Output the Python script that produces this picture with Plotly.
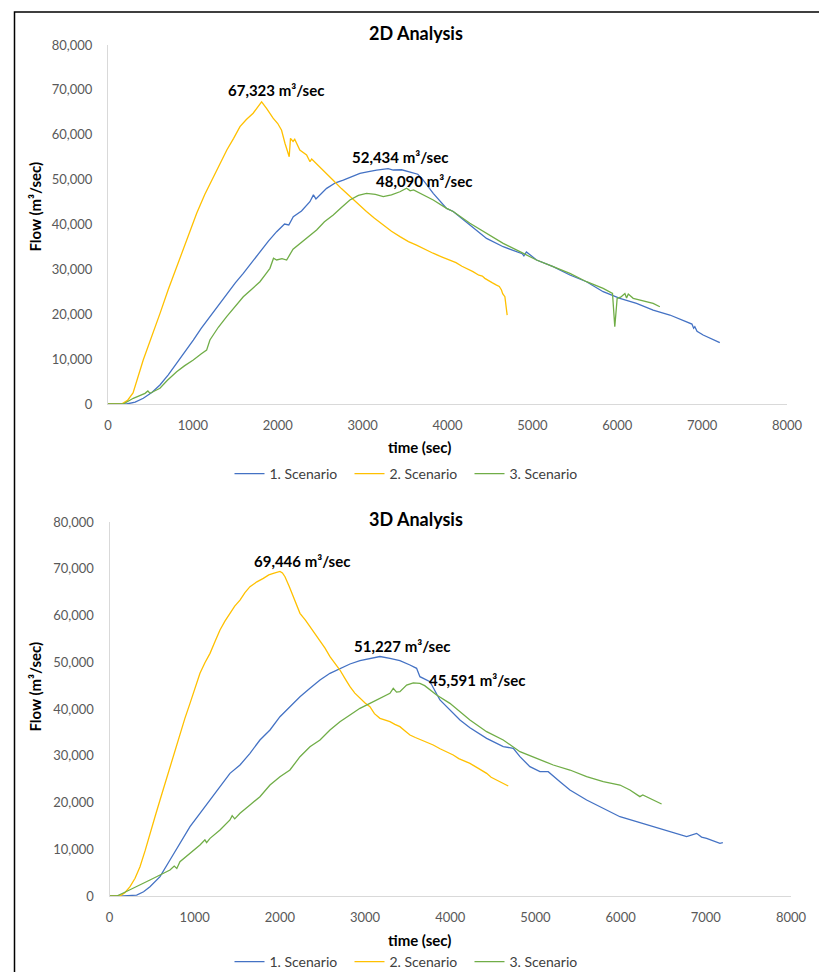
import plotly.graph_objects as go

# ---------------- data: 2D Analysis ----------------
s1_2d_t = [0, 220, 320, 416, 520, 612, 710, 809, 905, 1005, 1100, 1201, 1300, 1398, 1500, 1594, 1700, 1790, 1890, 1987,
           2080, 2130, 2183, 2280, 2379, 2420, 2450, 2576, 2680, 2772, 2870, 2968, 3070, 3165, 3300, 3361, 3460, 3557,
           3650, 3714, 3832, 3989, 4067, 4264, 4460, 4656, 4813, 4880, 4900, 4930, 5049, 5245, 5442, 5638, 5834, 6031,
           6227, 6423, 6620, 6816, 6880, 6900, 6914, 6940, 7012, 7208]
s1_2d_q = [0, 0, 400, 1270, 2600, 4230, 6500, 9060, 11700, 14260, 16900, 19460, 22100, 24660, 27000, 29100, 31700, 33940, 36300, 38400,
           40100, 39900, 41740, 43000, 45080, 46600, 45700, 48050, 49300, 49900, 50600, 51400, 51800, 52140, 52434, 52140, 52200, 51770,
           51200, 49900, 46950, 43600, 42900, 39900, 36900, 35050, 33940, 33500, 33000, 33900, 32090, 30600, 28740, 27250, 25020, 23550,
           22430, 20940, 19830, 18340, 17800, 16900, 17230, 16200, 15370, 13660]

s2_2d_t = [0, 160, 230, 295, 415, 520, 615, 710, 810, 930, 1045, 1140, 1240, 1320, 1400, 1480, 1555, 1630, 1710, 1770,
           1810, 1870, 1945, 2000, 2045, 2085, 2135, 2150, 2180, 2200, 2260, 2340, 2380, 2400, 2455, 2550, 2650, 2750,
           2850, 2950, 3045, 3140, 3240, 3340, 3440, 3540, 3635, 3730, 3830, 3930, 4030, 4100, 4170, 4264, 4300, 4370,
           4410, 4440, 4480, 4530, 4578, 4610, 4636, 4650, 4676, 4690, 4703]
s2_2d_q = [0, 0, 800, 2450, 9800, 15200, 20300, 25500, 30600, 36800, 42500, 46700, 50600, 53800, 56600, 59200, 61800, 63400, 64800, 66300,
           67323, 65800, 63700, 62500, 61000, 58100, 55100, 59200, 58500, 59000, 56600, 55500, 54000, 54600, 53600, 51700, 49900, 48000,
           46200, 44500, 42900, 41400, 39900, 38500, 37300, 36200, 35400, 34500, 33600, 32800, 32100, 31500, 30700, 29900, 29500, 28700,
           28500, 28000, 27500, 27000, 26500, 26200, 25400, 24600, 23900, 21500, 19800]

s3_2d_t = [0, 180, 298, 380, 436, 470, 495, 560, 612, 700, 809, 900, 1005, 1100, 1162, 1201, 1240, 1300, 1398, 1500,
           1594, 1700, 1790, 1860, 1908, 1950, 1987, 2050, 2105, 2180, 2261, 2360, 2458, 2550, 2654, 2750, 2850, 2950,
           3046, 3150, 3243, 3340, 3439, 3518, 3560, 3600, 3675, 3750, 3832, 3989, 4067, 4264, 4460, 4656, 4853, 5049,
           5245, 5442, 5638, 5834, 5944, 5971, 5999, 6040, 6070, 6090, 6110, 6130, 6188, 6306, 6423, 6502]
s3_2d_q = [0, 0, 1270, 1900, 2380, 2900, 2380, 3000, 3500, 5300, 7200, 8500, 9800, 11200, 12000, 14260, 15500, 17100, 19460, 21800,
           23900, 25700, 27250, 29000, 30230, 32500, 32090, 32400, 32090, 34500, 35800, 37300, 38770, 40600, 42110, 43800, 45450, 46500,
           46950, 46700, 46200, 46600, 47300, 48090, 47500, 47700, 46950, 46200, 45450, 43600, 42900, 40260, 38030, 35800, 33940, 32090,
           30600, 29100, 27250, 25760, 24660, 17230, 23550, 23800, 24290, 24600, 23600, 24500, 23550, 23000, 22430, 21680]

# ---------------- data: 3D Analysis ----------------
s1_3d_t = [0, 162, 319, 400, 475, 593, 710, 827, 945, 1062, 1180, 1297, 1414, 1532, 1649, 1766, 1884, 2001, 2118, 2236,
           2353, 2471, 2588, 2705, 2823, 2940, 3057, 3175, 3292, 3409, 3527, 3605, 3644, 3762, 3879, 3996, 4114, 4231,
           4427, 4622, 4740, 4818, 4935, 5053, 5150, 5288, 5405, 5601, 5796, 5992, 6188, 6383, 6579, 6775, 6892, 6950,
           7009, 7166, 7200]
s1_3d_q = [0, 0, 200, 900, 2000, 4130, 7700, 11270, 14830, 17690, 20530, 23380, 26240, 28020, 30520, 33370, 35510, 38360, 40500, 42630,
           44420, 46200, 47630, 48700, 49630, 50340, 50840, 51227, 50840, 50340, 49410, 48700, 46910, 45840, 41930, 39790, 37650, 36000,
           33730, 31940, 31590, 29810, 27660, 26590, 26590, 24450, 22670, 20530, 18750, 16960, 15900, 14830, 13750, 12690, 13400, 12600,
           12330, 11270, 11400]

s2_3d_t = [0, 123, 180, 241, 300, 358, 420, 475, 535, 593, 650, 710, 770, 827, 885, 945, 1000, 1062, 1120, 1180,
           1240, 1297, 1355, 1414, 1470, 1532, 1590, 1649, 1730, 1806, 1870, 1923, 2001, 2030, 2060, 2110, 2158, 2200,
           2236, 2300, 2353, 2410, 2471, 2530, 2588, 2650, 2705, 2765, 2823, 2880, 2940, 3000, 3057, 3110, 3175, 3230,
           3292, 3350, 3409, 3470, 3527, 3590, 3644, 3720, 3800, 3880, 3957, 4035, 4100, 4231, 4330, 4427, 4480, 4545,
           4610, 4681]
s2_3d_q = [0, 0, 700, 2000, 3800, 6270, 9800, 13400, 17000, 20530, 24000, 27660, 31200, 34800, 38000, 41200, 44200, 47630, 49900, 51900,
           54500, 56900, 58800, 60460, 62000, 63300, 64900, 66160, 67200, 67950, 68700, 69020, 69446, 69100, 68300, 66200, 64020, 62000,
           60460, 59000, 57600, 56300, 54760, 53000, 51190, 49800, 48340, 46500, 44770, 43400, 42290, 41300, 40500, 39000, 38000, 37700,
           37290, 36700, 36220, 35300, 34440, 33900, 33500, 32800, 32300, 31500, 30870, 30160, 29400, 28380, 27300, 26240, 25400, 24810,
           24300, 23530]

s3_3d_t = [0, 85, 180, 280, 380, 475, 593, 710, 760, 790, 827, 945, 1062, 1120, 1140, 1180, 1297, 1414, 1440, 1470,
           1532, 1649, 1700, 1766, 1884, 2001, 2118, 2236, 2353, 2471, 2588, 2705, 2823, 2940, 3057, 3175, 3292, 3331,
           3370, 3409, 3488, 3566, 3644, 3700, 3762, 3840, 3996, 4114, 4231, 4427, 4622, 4818, 5014, 5209, 5405, 5601,
           5796, 5992, 6109, 6226, 6260, 6383, 6481]
s3_3d_q = [0, 0, 800, 1640, 2500, 3420, 4490, 5560, 6400, 5900, 7340, 9130, 10910, 12000, 11400, 12330, 14120, 16260, 17200, 16500,
           17690, 19470, 20200, 21250, 23740, 25520, 26950, 29800, 31940, 33370, 35510, 37290, 38720, 40150, 41210, 42290, 43360, 44420,
           43600, 43700, 45130, 45591, 45490, 45000, 44060, 43000, 41210, 39430, 37650, 35150, 33370, 30870, 29450, 28020, 26950, 25520,
           24450, 23740, 22670, 21250, 21600, 20530, 19680]

names = ["1. Scenario", "2. Scenario", "3. Scenario"]
colors = ["#4472C4", "#FFC000", "#70AD47"]

# peak labels: (text, time, flow)
peaks_2d = [("67,323 m³/sec", 1979, 69960), ("52,434 m³/sec", 3439, 55030), ("48,090 m³/sec", 3722, 49690)]
peaks_3d = [("69,446 m³/sec", 2259, 71720), ("51,227 m³/sec", 3433, 53480), ("45,591 m³/sec", 4313, 46200)]

W, H = 819, 972
FONT = "Lato, 'Open Sans', sans-serif"

fig = go.Figure()
for (t, q), n, c in zip([(s1_2d_t, s1_2d_q), (s2_2d_t, s2_2d_q), (s3_2d_t, s3_2d_q)], names, colors):
    fig.add_trace(go.Scatter(x=t, y=q, mode="lines", name=n, line=dict(color=c, width=1.3),
                             xaxis="x", yaxis="y", legend="legend"))
for (t, q), n, c in zip([(s1_3d_t, s1_3d_q), (s2_3d_t, s2_3d_q), (s3_3d_t, s3_3d_q)], names, colors):
    fig.add_trace(go.Scatter(x=t, y=q, mode="lines", name=n, line=dict(color=c, width=1.3),
                             xaxis="x2", yaxis="y2", legend="legend2"))

xcommon = dict(range=[0, 8000], dtick=1000, tick0=0, tickformat="d", showgrid=False, zeroline=False,
               showline=True, linecolor="#d9d9d9", linewidth=1, ticks="", automargin=False,
               tickfont=dict(family=FONT, size=13, color="#595959"), ticklabelstandoff=9, fixedrange=True)
ycommon = dict(range=[0, 80000], dtick=10000, tick0=0, tickformat=",d", showgrid=False, zeroline=False,
               showline=True, linecolor="#d9d9d9", linewidth=1, ticks="", automargin=False,
               tickfont=dict(family=FONT, size=13, color="#595959"), ticklabelstandoff=12, fixedrange=True)

legcommon = dict(orientation="h", x=0.5, xanchor="center",
                 font=dict(family=FONT, size=14, color="#404040"), entrywidth=75, entrywidthmode="pixels",
                 bgcolor="rgba(0,0,0,0)", borderwidth=0)

fig.update_layout(
    width=W, height=H, autosize=False,
    margin=dict(l=0, r=0, t=0, b=0, autoexpand=False),
    paper_bgcolor="white", plot_bgcolor="white",
    font=dict(family=FONT),
    xaxis=dict(domain=[108 / W, 787 / W], anchor="y", **xcommon),
    yaxis=dict(domain=[1 - 404 / H, 1 - 45 / H], anchor="x", **ycommon),
    xaxis2=dict(domain=[109.5 / W, 791 / W], anchor="y2", **xcommon),
    yaxis2=dict(domain=[1 - 896 / H, 1 - 522 / H], anchor="x2", **ycommon),
    legend=dict(y=1 - 474 / H, yanchor="middle", **legcommon),
    legend2=dict(y=1 - 962 / H, yanchor="middle", **legcommon),
    showlegend=True,
)

ann = []
def add(text, x, y, xref="paper", yref="paper", size=15, angle=0):
    ann.append(dict(text="<b>" + text + "</b>", x=x, y=y, xref=xref, yref=yref, xanchor="center",
                    yanchor="middle", textangle=angle, showarrow=False,
                    font=dict(family=FONT, size=size, color="#000000")))

# titles
add("2D Analysis", 416 / W, 1 - 33 / H, size=18)
add("3D Analysis", 416 / W, 1 - 519 / H, size=18)
# axis titles
for yy in (447, 940):
    add("time (sec)", 420 / W, 1 - yy / H)
for yy in (207, 687):
    add("Flow (m³/sec)", 34.5 / W, 1 - yy / H, angle=-90)
# peak labels
for txt, t, q in peaks_2d:
    add(txt, t, q, xref="x", yref="y")
for txt, t, q in peaks_3d:
    add(txt, t, q, xref="x2", yref="y2")
fig.update_layout(annotations=ann)

# outer frame
fig.add_shape(type="rect", xref="paper", yref="paper", x0=14.5 / W, x1=1.05, y0=-0.05, y1=1 - 12 / H,
              line=dict(color="#000000", width=1.5), fillcolor="rgba(0,0,0,0)", layer="above")

fig.write_html("out.html")
